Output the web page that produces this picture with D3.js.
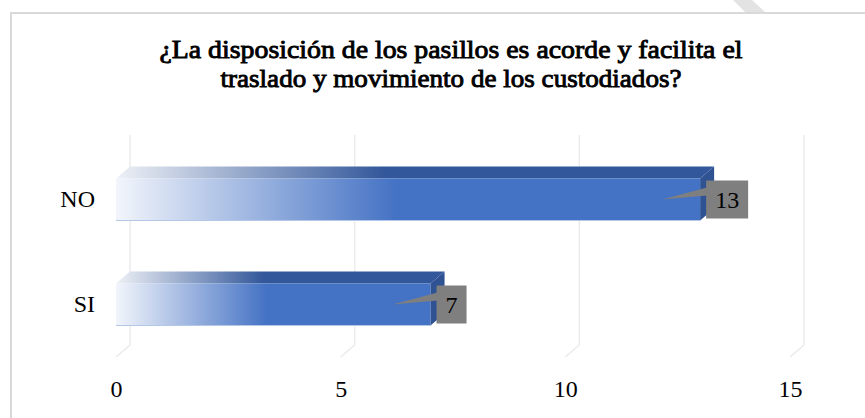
<!DOCTYPE html>
<html>
<head>
<meta charset="utf-8">
<script src="https://cdn.jsdelivr.net/npm/d3@7"></script>
<style>
  body { margin: 0; background: #fff; }
  svg text { font-family: "Liberation Serif", "Times New Roman", serif; fill: #000; }
</style>
</head>
<body>
<svg id="chart" width="865" height="418"></svg>
<script>
var categories = ["NO", "SI"],
  values = [13, 7],
  xTicks = [0, 5, 10, 15],
  titleLines = ["¿La disposición de los pasillos es acorde y facilita el",
    "traslado y movimiento de los custodiados?"];

var svg = d3.select("#chart"),
  depth = { x: 14, y: -12 };

var x = d3.scaleLinear()
  .domain([0, 15])
  .range([116, 790]);

var y = d3.scaleBand()
  .domain(categories)
  .range([147, 357])
  .paddingInner(0.6)
  .paddingOuter(0.3);

var defs = svg.append("defs");

var frontGrad = defs.append("linearGradient").attr("id", "front");
frontGrad.append("stop").attr("offset", 0).attr("stop-color", "#f2f5fb");
frontGrad.append("stop").attr("offset", 0.48).attr("stop-color", "#4472c4");
frontGrad.append("stop").attr("offset", 1).attr("stop-color", "#4472c4");

var topGrad = defs.append("linearGradient").attr("id", "topface");
topGrad.append("stop").attr("offset", 0).attr("stop-color", "#eef1f6");
topGrad.append("stop").attr("offset", 0.45).attr("stop-color", "#32579a");
topGrad.append("stop").attr("offset", 1).attr("stop-color", "#32579a");

// page frame + little watermark stroke
svg.append("polygon")
  .attr("points", "733,0 752,0 765,12 745,12")
  .attr("fill", "#e3e3e3");
svg.append("path")
  .attr("d", "M11,418V13H865")
  .attr("fill", "none")
  .attr("stroke", "#d9d9d9")
  .attr("stroke-width", 2);

// title: regular serif thickened with a stroke (no bold face installed)
var titleWidths = [583, 461];
svg.append("g")
  .selectAll("text")
  .data(titleLines)
  .join("text")
  .attr("x", 451)
  .attr("y", function (d, i) { return 58 + i * 29; })
  .attr("text-anchor", "middle")
  .attr("font-family", "Liberation Serif")
  .attr("font-size", 26)
  .attr("stroke", "#000")
  .attr("stroke-width", 0.9)
  .attr("textLength", function (d, i) { return titleWidths[i]; })
  .attr("lengthAdjust", "spacingAndGlyphs")
  .text(function (d) { return d; });

// gridlines (back wall + floor)
var y0 = y.range()[1];
svg.append("g")
  .selectAll("path")
  .data(xTicks)
  .join("path")
  .attr("d", function (d) {
    return "M" + (x(d) + depth.x) + "," + (y.range()[0] + depth.y) +
      "V" + (y0 + depth.y) + "L" + x(d) + "," + y0;
  })
  .attr("fill", "none")
  .attr("stroke", "#ebebeb")
  .attr("stroke-width", 1.5);

// axes
svg.append("g")
  .attr("transform", "translate(0,375)")
  .call(d3.axisBottom(x).tickValues(xTicks).tickSize(0).tickPadding(5))
  .call(function (g) { g.select(".domain").remove(); })
  .selectAll("text")
  .attr("font-family", "Liberation Serif")
  .attr("font-size", 24);

svg.append("g")
  .attr("transform", "translate(100,0)")
  .call(d3.axisLeft(y).tickSize(0).tickPadding(5))
  .call(function (g) { g.select(".domain").remove(); })
  .selectAll("text")
  .attr("font-family", "Liberation Serif")
  .attr("font-size", 24);

// bars
var bars = svg.append("g")
  .selectAll("g")
  .data(categories.map(function (c, i) { return { cat: c, value: values[i] }; }))
  .join("g");

bars.append("polygon")
  .attr("points", function (d) {
    var x0 = x(0), x1 = x(d.value), yt = y(d.cat);
    return [[x0, yt], [x1, yt], [x1 + depth.x, yt + depth.y], [x0 + depth.x, yt + depth.y]].join(" ");
  })
  .attr("fill", "url(#topface)");

bars.append("rect")
  .attr("x", x(0))
  .attr("y", function (d) { return y(d.cat); })
  .attr("width", function (d) { return x(d.value) - x(0); })
  .attr("height", y.bandwidth())
  .attr("fill", "url(#front)");

bars.append("line")
  .attr("x1", x(0))
  .attr("x2", function (d) { return x(d.value); })
  .attr("y1", function (d) { return y(d.cat) + y.bandwidth(); })
  .attr("y2", function (d) { return y(d.cat) + y.bandwidth(); })
  .attr("stroke", "#b4c7e7")
  .attr("stroke-width", 1);

bars.append("polygon")
  .attr("points", function (d) {
    var x1 = x(d.value), yt = y(d.cat), h = y.bandwidth();
    return [[x1, yt], [x1 + depth.x, yt + depth.y], [x1 + depth.x, yt + h + depth.y], [x1, yt + h]].join(" ");
  })
  .attr("fill", "#2f5293");

// data labels with callout
bars.each(function (d) {
  var g = d3.select(this),
    cy = y(d.cat) + y.bandwidth() / 2,
    bx = x(d.value) + 6;
  var t = g.append("text")
    .attr("font-family", "Liberation Serif")
    .attr("font-size", 24)
    .attr("y", cy)
    .attr("dy", "0.35em")
    .text(d.value);
  var w = t.node().getComputedTextLength() + 18;
  g.insert("polygon", "text")
    .attr("points", [[bx + 1, cy - 12], [x(d.value) - 38, cy], [bx + 1, cy - 4]].join(" "))
    .attr("fill", "#7f7f7f");
  g.insert("rect", "text")
    .attr("x", bx)
    .attr("y", cy - 19)
    .attr("width", w)
    .attr("height", 38)
    .attr("fill", "#7f7f7f");
  t.attr("x", bx + w / 2).attr("text-anchor", "middle");
});
</script>
</body>
</html>
